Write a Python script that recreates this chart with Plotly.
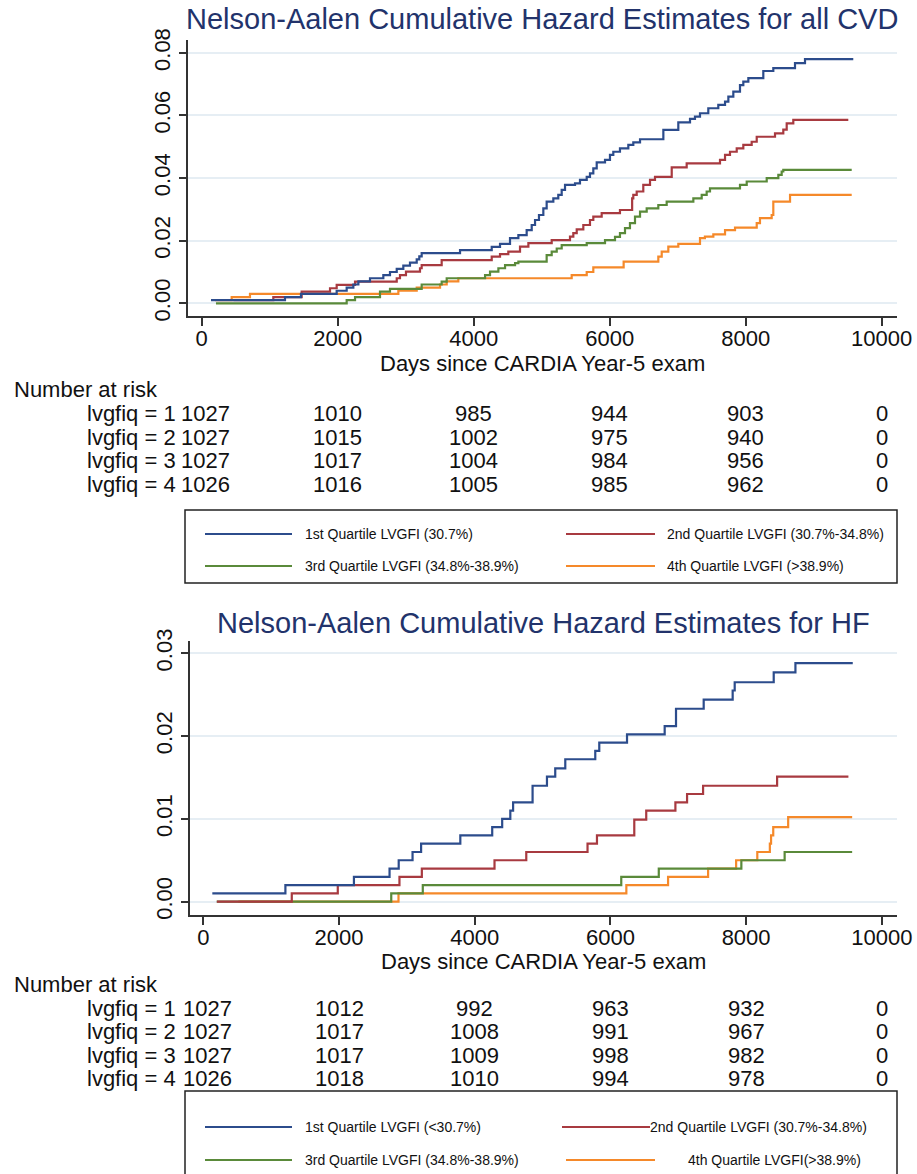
import plotly.graph_objects as go

W, H = 917, 1174

# ---------------- data ----------------
series_names = ["1st Quartile", "2nd Quartile", "3rd Quartile", "4th Quartile"]
colors = ["#2c4c8c", "#a83a40", "#5a8a3a", "#f5892a"]

# CVD cumulative hazard (days, value)
cvd_q1_days = [137, 1225, 1460, 1985, 2132, 2230, 2304, 2475, 2671, 2769, 2868, 2965, 3063, 3162, 3200, 3235,
               3799, 4265, 4387, 4534, 4657, 4779, 4853, 4902, 4960, 5024, 5073, 5171, 5244, 5294, 5343, 5490,
               5563, 5662, 5710, 5759, 5809, 5931, 6004, 6053, 6151, 6274, 6347, 6446, 6789, 7009, 7181, 7254,
               7328, 7450, 7597, 7696, 7745, 7818, 7916, 7965, 8039, 8259, 8406, 8725, 8872, 9582]
cvd_q1_haz = [0.001, 0.002, 0.003, 0.004, 0.005, 0.006, 0.007, 0.008, 0.009, 0.010, 0.011, 0.012, 0.013, 0.014,
              0.015, 0.016, 0.017, 0.018, 0.019, 0.0208, 0.0218, 0.0234, 0.025, 0.0266, 0.0282, 0.0303, 0.0325,
              0.0335, 0.0346, 0.0362, 0.0378, 0.0383, 0.0394, 0.0404, 0.0415, 0.0431, 0.045, 0.0458, 0.0474,
              0.0484, 0.0495, 0.0506, 0.0514, 0.0524, 0.0554, 0.0578, 0.0589, 0.0596, 0.0607, 0.0623, 0.0634,
              0.0644, 0.066, 0.0676, 0.0697, 0.0708, 0.0719, 0.0742, 0.0751, 0.0767, 0.078, 0.078]

cvd_q2_days = [465, 1053, 1470, 1887, 1985, 2255, 2868, 2916, 3004, 3210, 3235, 3529, 4265, 4387, 4509, 4681,
               4804, 5147, 5416, 5465, 5515, 5612, 5710, 5759, 5882, 6151, 6330, 6347, 6397, 6494, 6593, 6666,
               6912, 7132, 7622, 7696, 7769, 7868, 7965, 8088, 8162, 8431, 8553, 8603, 8700, 9509]
cvd_q2_haz = [0.001, 0.002, 0.0037, 0.0048, 0.0059, 0.0069, 0.008, 0.009, 0.0101, 0.0112, 0.0122, 0.0138,
              0.0149, 0.0157, 0.0165, 0.0181, 0.0192, 0.0202, 0.0213, 0.0224, 0.0236, 0.025, 0.0266, 0.0277,
              0.0288, 0.0298, 0.0335, 0.0346, 0.0357, 0.0378, 0.0394, 0.0404, 0.0434, 0.0447, 0.0458, 0.0474,
              0.0484, 0.0495, 0.0506, 0.0516, 0.0532, 0.0543, 0.0555, 0.0575, 0.0586, 0.0586]

cvd_q3_days = [210, 2132, 2255, 2622, 2769, 3235, 3529, 3603, 4167, 4240, 4363, 4461, 4608, 4657, 5073, 5147,
               5221, 5294, 5662, 5931, 6078, 6151, 6225, 6298, 6372, 6446, 6544, 6715, 6838, 7230, 7353, 7426,
               7475, 7916, 8015, 8309, 8480, 8529, 8553, 9559]
cvd_q3_haz = [0.0, 0.001, 0.002, 0.0037, 0.0046, 0.006, 0.0069, 0.008, 0.009, 0.0101, 0.0112, 0.0122, 0.0128,
              0.0133, 0.0154, 0.0165, 0.0175, 0.0186, 0.0192, 0.0202, 0.0212, 0.0224, 0.024, 0.0256, 0.0277,
              0.0293, 0.0303, 0.0314, 0.0325, 0.0335, 0.0346, 0.0357, 0.0367, 0.0378, 0.0389, 0.04, 0.041,
              0.0421, 0.0426, 0.0426]

cvd_q4_days = [196, 441, 710, 2892, 3162, 3505, 3603, 3774, 5441, 5662, 5759, 6205, 6715, 6765, 6862, 7009,
               7328, 7400, 7524, 7696, 7843, 8162, 8210, 8382, 8406, 8652, 9559]
cvd_q4_haz = [0.001, 0.002, 0.003, 0.004, 0.005, 0.006, 0.007, 0.008, 0.009, 0.010, 0.0115, 0.0133, 0.0149,
              0.0165, 0.0181, 0.019, 0.0208, 0.0213, 0.022, 0.0234, 0.0242, 0.0256, 0.0272, 0.0282, 0.0325,
              0.0346, 0.0346]

# HF cumulative hazard (days, value)
hf_q1_days = [133, 1210, 2220, 2745, 2880, 3084, 3210, 3788, 4258, 4405, 4525, 4566, 4853, 5065, 5187, 5335,
              5777, 5836, 6245, 6800, 6967, 7375, 7802, 7832, 8407, 8727, 9572]
hf_q1_haz = [0.001, 0.002, 0.003, 0.004, 0.005, 0.006, 0.007, 0.008, 0.009, 0.010, 0.011, 0.012, 0.014,
             0.0151, 0.0161, 0.0172, 0.0182, 0.0192, 0.0202, 0.0212, 0.0233, 0.0244, 0.0255, 0.0265, 0.0277,
             0.0288, 0.0288]

hf_q2_days = [200, 1304, 1982, 2891, 3221, 4292, 4760, 5663, 5802, 6352, 6528, 6958, 7130, 7366, 8457, 9508]
hf_q2_haz = [0.0, 0.001, 0.002, 0.003, 0.004, 0.005, 0.006, 0.007, 0.008, 0.0099, 0.011, 0.012, 0.013, 0.014,
             0.0151, 0.0151]

hf_q3_days = [198, 2770, 3235, 6160, 6713, 7930, 8568, 9563]
hf_q3_haz = [0.0, 0.001, 0.002, 0.003, 0.004, 0.005, 0.006, 0.006]

hf_q4_days = [517, 2877, 6235, 6850, 7440, 7853, 8165, 8350, 8368, 8400, 8620, 9563]
hf_q4_haz = [0.0, 0.001, 0.002, 0.003, 0.004, 0.005, 0.006, 0.007, 0.008, 0.009, 0.0102, 0.0102]

# Number at risk
risk_times = [0, 2000, 4000, 6000, 8000, 10000]
risk_groups = ["lvgfiq = 1", "lvgfiq = 2", "lvgfiq = 3", "lvgfiq = 4"]
cvd_risk = [[1027, 1010, 985, 944, 903, 0],
            [1027, 1015, 1002, 975, 940, 0],
            [1027, 1017, 1004, 984, 956, 0],
            [1026, 1016, 1005, 985, 962, 0]]
hf_risk = [[1027, 1012, 992, 963, 932, 0],
           [1027, 1017, 1008, 991, 967, 0],
           [1027, 1017, 1009, 998, 982, 0],
           [1026, 1018, 1010, 994, 978, 0]]

cvd_labels = ["1st Quartile LVGFI (30.7%)", "2nd Quartile LVGFI (30.7%-34.8%)",
              "3rd Quartile LVGFI (34.8%-38.9%)", "4th Quartile LVGFI (>38.9%)"]
hf_labels = ["1st Quartile LVGFI (<30.7%)", "2nd Quartile LVGFI (30.7%-34.8%)",
             "3rd Quartile LVGFI (34.8%-38.9%)", "4th Quartile LVGFI(>38.9%)"]

x_ticks = [0, 2000, 4000, 6000, 8000, 10000]
x_ticktext = ["0", "2000", "4000", "6000", "8000", "10000"]
cvd_yticks = [0.0, 0.02, 0.04, 0.06, 0.08]
hf_yticks = [0.0, 0.01, 0.02, 0.03]

title_cvd = "Nelson-Aalen Cumulative Hazard Estimates for all CVD"
title_hf = "Nelson-Aalen Cumulative Hazard Estimates for HF"
x_title = "Days since CARDIA Year-5 exam"

# ---------------- figure ----------------
FONT = "Liberation Sans, Arial, Helvetica, sans-serif"
TXT = "#111111"
TITLE_C = "#22336b"
AX_C = "#333333"
GRID_C = "#e6eef4"


def fx(p):
    return p / W


def fy(p):
    return 1 - p / H


fig = go.Figure()

cvd = [(cvd_q1_days, cvd_q1_haz), (cvd_q2_days, cvd_q2_haz), (cvd_q3_days, cvd_q3_haz), (cvd_q4_days, cvd_q4_haz)]
hf = [(hf_q1_days, hf_q1_haz), (hf_q2_days, hf_q2_haz), (hf_q3_days, hf_q3_haz), (hf_q4_days, hf_q4_haz)]

for i in reversed(range(4)):
    d, v = cvd[i]
    fig.add_trace(go.Scatter(x=d, y=v, mode="lines", name=series_names[i],
                             line=dict(color=colors[i], width=2.2, shape="hv"),
                             xaxis="x", yaxis="y", showlegend=False))
for i in reversed(range(4)):
    d, v = hf[i]
    fig.add_trace(go.Scatter(x=d, y=v, mode="lines", name=series_names[i],
                             line=dict(color=colors[i], width=2.2, shape="hv"),
                             xaxis="x2", yaxis="y2", showlegend=False))

axis_common = dict(showline=True, linecolor=AX_C, linewidth=1.5, ticks="outside", tickcolor=AX_C,
                   tickwidth=1.5, zeroline=False, automargin=False)
xfont = dict(size=22, color=TXT, family=FONT)
yfont = dict(size=22, color=TXT, family=FONT)

fig.update_layout(
    width=W, height=H,
    margin=dict(l=0, r=0, t=0, b=0, autoexpand=False),
    paper_bgcolor="white", plot_bgcolor="white",
    font=dict(family=FONT, color=TXT),
    showlegend=False,
    xaxis=dict(domain=[fx(188), fx(897)], range=[-201.5, 10225], anchor="y", tickvals=x_ticks,
               ticktext=x_ticktext, ticklen=8, showgrid=False, tickfont=xfont, ticklabelstandoff=-6,
               **axis_common),
    yaxis=dict(domain=[fy(316), fy(40)], range=[-0.00406, 0.0841], anchor="x", tickvals=cvd_yticks,
               tickformat=".2f", tickangle=-90, ticklen=7, showgrid=True, gridcolor=GRID_C, gridwidth=1.5,
               tickfont=yfont, **axis_common),
    xaxis2=dict(domain=[fx(190), fx(897)], range=[-196, 10224], anchor="y2", tickvals=x_ticks,
                ticktext=x_ticktext, ticklen=8, showgrid=False, tickfont=xfont, ticklabelstandoff=-6,
                **axis_common),
    yaxis2=dict(domain=[fy(915), fy(641)], range=[-0.00161, 0.03148], anchor="x2", tickvals=hf_yticks,
                tickformat=".2f", tickangle=-90, ticklen=7, showgrid=True, gridcolor=GRID_C, gridwidth=1.5,
                tickfont=yfont, **axis_common),
)

ann = []
shapes = []

# titles
ann.append(dict(text=title_cvd, x=fx(542), y=fy(19), xref="paper", yref="paper", showarrow=False,
                xanchor="center", yanchor="middle", font=dict(size=29, color=TITLE_C)))
ann.append(dict(text=title_hf, x=fx(543), y=fy(623), xref="paper", yref="paper", showarrow=False,
                xanchor="center", yanchor="middle", font=dict(size=29, color=TITLE_C)))

# x axis titles
ann.append(dict(text=x_title, x=fx(542), y=fy(363), xref="paper", yref="paper", showarrow=False,
                xanchor="center", yanchor="middle", font=dict(size=22, color=TXT)))
ann.append(dict(text=x_title, x=fx(543), y=fy(961), xref="paper", yref="paper", showarrow=False,
                xanchor="center", yanchor="middle", font=dict(size=22, color=TXT)))

RF = 22


def risk_table(risk, xref, y_head, row_ys):
    ann.append(dict(text="Number at risk", x=fx(12), y=fy(y_head), xref="paper", yref="paper",
                    showarrow=False, xanchor="left", yanchor="middle", font=dict(size=RF, color=TXT)))
    for r, row in enumerate(risk):
        ann.append(dict(text=risk_groups[r], x=fx(178), y=fy(row_ys[r]), xref="paper", yref="paper",
                        showarrow=False, xanchor="right", yanchor="middle", font=dict(size=RF, color=TXT)))
        for t, n in zip(risk_times, row):
            ann.append(dict(text=str(n), x=t, y=fy(row_ys[r]), xref=xref, yref="paper", showarrow=False,
                            xanchor="center", yanchor="middle", xshift=4 if t == 0 else 0,
                            font=dict(size=RF, color=TXT)))


risk_table(cvd_risk, "x", 390, [413.5, 437, 460.5, 484])
risk_table(hf_risk, "x2", 984.5, [1008, 1031.5, 1055, 1078.5])


def legend_box(labels, top, bottom, row_ys, text_x, line_x):
    shapes.append(dict(type="rect", xref="paper", yref="paper", x0=fx(185), x1=fx(897), y0=fy(bottom),
                       y1=fy(top), line=dict(color="#222222", width=1.5), fillcolor="rgba(0,0,0,0)"))
    ys = [row_ys[0], row_ys[0], row_ys[1], row_ys[1]]
    for i in range(4):
        shapes.append(dict(type="line", xref="paper", yref="paper", x0=fx(line_x[i][0]), x1=fx(line_x[i][1]),
                           y0=fy(ys[i]), y1=fy(ys[i]), line=dict(color=colors[i], width=2)))
        ann.append(dict(text=labels[i], x=fx(text_x[i]), y=fy(ys[i]), xref="paper", yref="paper",
                        showarrow=False, xanchor="left", yanchor="middle", font=dict(size=14, color=TXT)))


legend_box(cvd_labels, 510, 583, [534, 566], [303, 665, 303, 665],
           [(205, 292), (566, 655), (205, 292), (566, 655)])
legend_box(hf_labels, 1091, 1200, [1127, 1160], [303, 648, 303, 686],
           [(205, 292), (562, 650), (205, 292), (566, 655)])

fig.update_layout(annotations=ann, shapes=shapes)
fig.write_html("out.html")
